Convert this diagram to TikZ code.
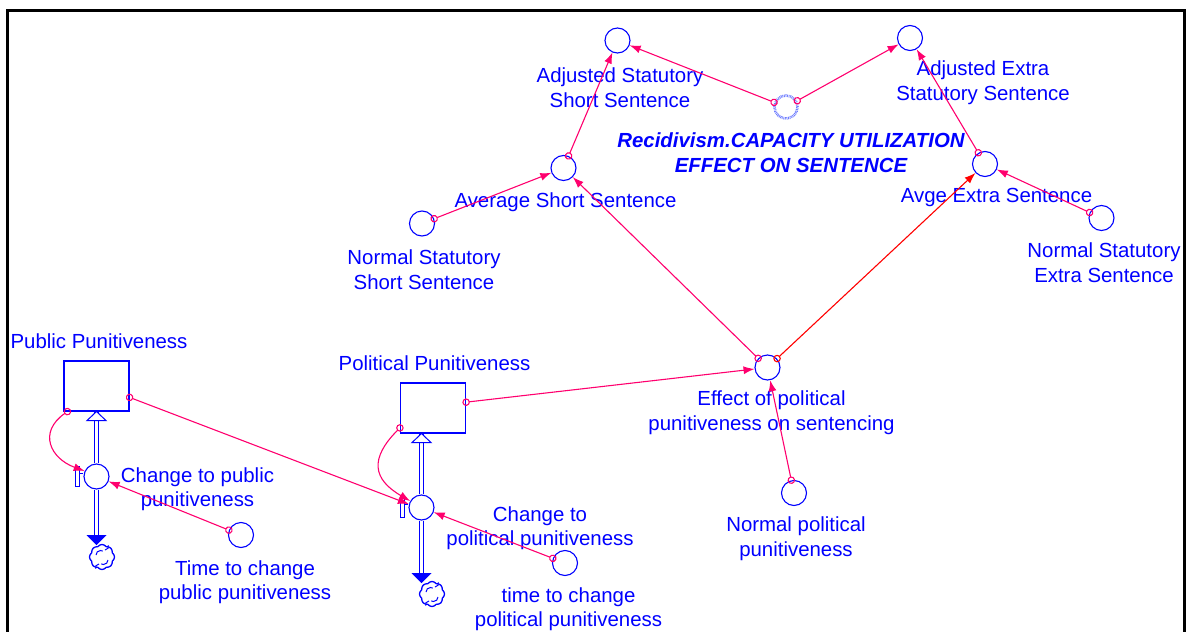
\documentclass[tikz,border=0pt]{standalone}
\usepackage{fontspec}
\setmainfont{Liberation Sans}
\usetikzlibrary{arrows.meta,shapes.symbols}
\definecolor{vblue}{RGB}{0,0,255}
\definecolor{conn}{RGB}{255,0,110}
\definecolor{ghostc}{RGB}{110,125,255}
\begin{document}
\begin{tikzpicture}[x=1pt,y=-1pt,
  every node/.style={font=\fontsize{20.4}{24.5}\selectfont, text=vblue},
  aux/.style={circle,draw=vblue,line width=1.1pt,minimum size=25pt,inner sep=0pt},
  lbl/.style={align=center,inner sep=0pt},
  ghostlbl/.style={align=center,inner sep=0pt,font=\fontsize{20.4}{24.5}\selectfont\bfseries\itshape},
  stock/.style={rectangle,draw=vblue,line width=1.1pt,minimum width=65pt,minimum height=50pt,inner sep=0pt},
  ghoststy/.style={circle,draw=ghostc,line width=2.6pt,dash pattern=on 0.8pt off 0.8pt,minimum size=23pt,inner sep=0pt},
  link/.style={draw=conn,line width=1.1pt,{Circle[open,length=7.5pt,width=7.5pt]}-{Latex[length=11pt,width=8pt]},shorten <=-3.7pt},
  pipe/.style={draw=vblue,line width=1pt,double=white,double distance=3.5pt},
  cloudsty/.style={cloud,cloud puffs=8,cloud puff arc=110,aspect=1,minimum width=25pt,minimum height=25pt,inner sep=0pt,draw=vblue,line width=1.3pt},
  swirl/.style={draw=vblue,line width=1pt},
  handle/.style={draw=vblue,line width=1pt,fill=white},
  frame/.style={draw=black,line width=3pt}
]
\useasboundingbox (0,0) rectangle (1187,632);
\draw[frame] (7,640) -- (7,10) -- (1184,10) -- (1184,640);

% stocks
\node[stock] (pub) at (96.5,386) {};
\node[lbl] (pubL) at (99,341) {Public Punitiveness};
\node[stock] (pol) at (433,408) {};
\node[lbl] (polL) at (434.5,363) {Political Punitiveness};

% valves
\node[aux] (pv) at (96.5,476.5) {};
\node[lbl] (pvL) at (197.5,489) {Change to public\\punitiveness};
\node[aux] (qv) at (421.5,507.5) {};
\node[lbl] (qvL) at (540,528) {Change to\\political punitiveness};

% clouds
\node[cloudsty] (pcl) at (102,557) {};
\node[cloudsty] (qcl) at (432,594) {};

% auxiliaries
\node[aux] (tcp) at (241,535) {};
\node[lbl] (tcpL) at (245,582) {Time to change\\public punitiveness};
\node[aux] (tcq) at (565,563) {};
\node[lbl] (tcqL) at (568.5,609) {time to change\\political punitiveness};
\node[aux] (eff) at (767.5,367.5) {};
\node[lbl] (effL) at (771.5,412.5) {Effect of political\\punitiveness on sentencing};
\node[aux] (npp) at (794,493) {};
\node[lbl] (nppL) at (796,538.5) {Normal political\\punitiveness};
\node[aux] (nss) at (422,223.5) {};
\node[lbl] (nssL) at (424,269.5) {Normal Statutory\\Short Sentence};
\node[aux] (avs) at (563.5,168) {};
\node[lbl] (avsL) at (565.5,202) {Average Short Sentence};
\node[aux] (ads) at (617.5,40.5) {};
\node[lbl] (adsL) at (620,87.5) {Adjusted Statutory\\Short Sentence};
\node[aux] (ade) at (910,38) {};
\node[lbl] (adeL) at (983,82.5) {Adjusted Extra\\Statutory Sentence};
\node[aux] (ave) at (985,164) {};
\node[lbl] (aveL) at (996.5,197) {Avge Extra Sentence};
\node[aux] (nse) at (1101.5,218) {};
\node[lbl] (nseL) at (1104,262.5) {Normal Statutory\\Extra Sentence};
\node[ghoststy] (gh) at (786,107) {};
\node[ghostlbl] (ghL) at (791,152.5) {Recidivism.CAPACITY UTILIZATION\\EFFECT ON SENTENCE};

% flow pipes (public)
\coordinate (pubB) at (pv |- pub.south);
\coordinate (pubD) at (96.5,545);
\draw[pipe] (pv.north) -- (pubB);
\draw[pipe] (pv.south) -- (96.5,535);
\draw[vblue,fill=white,line width=1pt] (pubB) -- ++(-9.5,9) -- ++(19,0) -- cycle;
\fill[vblue] (pubD) -- ++(-10,-10) -- ++(20,0) -- cycle;
% flow pipes (political)
\coordinate (polB) at (qv |- pol.south);
\coordinate (polD) at (421.5,583);
\draw[pipe] (qv.north) -- (polB);
\draw[pipe] (qv.south) -- (421.5,573);
\draw[vblue,fill=white,line width=1pt] (polB) -- ++(-9.5,9) -- ++(19,0) -- cycle;
\fill[vblue] (polD) -- ++(-10,-10) -- ++(20,0) -- cycle;

% valve handles
\draw[handle] (75.5,466.5) rectangle (79.5,486.5);
\draw[vblue,line width=1pt] (79.5,473) -- (pv.west |- 0,473);
\draw[handle] (400.5,497.5) rectangle (404.5,517.5);
\draw[vblue,line width=1pt] (404.5,504) -- (qv.west |- 0,504);

% cloud swirls
\draw[swirl] (pcl.center) ++(-6,-2) arc[start angle=180,end angle=300,radius=4.5];
\draw[swirl] (pcl.center) ++(6,3) arc[start angle=0,end angle=120,radius=4.5];
\draw[swirl] (pcl.center) ++(3,-7) arc[start angle=90,end angle=-20,radius=3.5];
\draw[swirl] (pcl.center) ++(-3,7) arc[start angle=270,end angle=160,radius=3.5];
\draw[swirl] (qcl.center) ++(-6,-2) arc[start angle=180,end angle=300,radius=4.5];
\draw[swirl] (qcl.center) ++(6,3) arc[start angle=0,end angle=120,radius=4.5];
\draw[swirl] (qcl.center) ++(3,-7) arc[start angle=90,end angle=-20,radius=3.5];
\draw[swirl] (qcl.center) ++(-3,7) arc[start angle=270,end angle=160,radius=3.5];

% connectors
\draw[link] (nss) -- (avs);
\draw[link] (avs) -- (ads);
\draw[link] (eff) -- (avs);
\draw[link,draw=red] (eff) -- (ave);
\draw[link] (nse) -- (ave);
\draw[link] (ave) -- (ade);
\draw[link] (gh) -- (ads);
\draw[link] (gh) -- (ade);
\draw[link] (pol.10) -- (eff);
\draw[link] (npp) -- (eff);
\draw[link] (pub.-19) -- (qv.165);
\draw[link] ([xshift=4pt]pub.south west) to[out=215,in=160,looseness=1.5] (pv.155);
\draw[link] (tcp) -- (pv);
\draw[link] (pol.211) to[out=225,in=150,looseness=1.5] (qv.150);
\draw[link] (tcq) -- (qv);
\end{tikzpicture}
\end{document}
